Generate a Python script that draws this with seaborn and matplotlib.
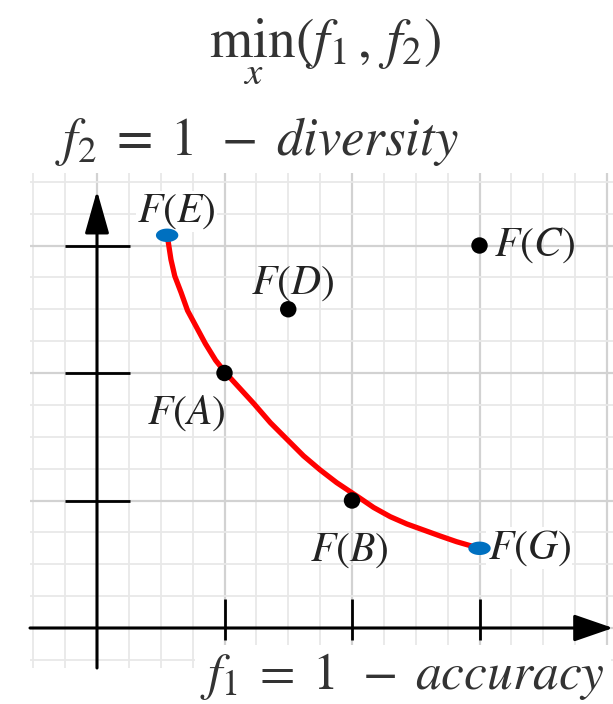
import numpy as np
import pandas as pd
import matplotlib
matplotlib.use("Agg")
import matplotlib.pyplot as plt
from matplotlib.path import Path
from matplotlib.ticker import MultipleLocator
import seaborn as sns

# ================================================================
# DATA
# ================================================================
point_names = ["A", "B", "C", "D"]
point_f1 = [1.0, 2.0, 3.0, 1.5]
point_f2 = [2.0, 1.0, 3.0, 2.5]

end_names = ["E", "G"]
end_f1 = [0.55, 3.0]
end_f2 = [3.08, 0.625]

# pareto front
front_f1 = [0.55, 0.56, 0.58, 0.61, 0.66, 0.71, 0.78, 0.85, 0.93, 1.01, 1.12, 1.23,
            1.36, 1.49, 1.62, 1.75, 1.88, 2.0, 2.06, 2.17, 2.30, 2.43, 2.56, 2.69, 2.82, 3.0]
front_f2 = [3.08, 3.02, 2.89, 2.76, 2.63, 2.49, 2.36, 2.23, 2.10, 2.0, 1.88, 1.76,
            1.61, 1.48, 1.35, 1.24, 1.14, 1.06, 1.02, 0.945, 0.873, 0.816, 0.769, 0.722, 0.677, 0.625]

axis_ticks = [1, 2, 3]

title_text = r"$\min_{x}(f_1,\, f_2)$"
ylabel_text = r"$f_2\;=\;1\;\,-\;diversity$"
xlabel_text = r"$f_1\;=\;1\;\,-\;accuracy$"

# ================================================================
# FIGURE
# ================================================================
W, H = 613, 704
sns.set_style("white")
plt.rcParams["mathtext.fontset"] = "stix"
plt.rcParams["font.family"] = ["STIXGeneral", "DejaVu Sans"]

fig = plt.figure(figsize=(W / 100, H / 100), dpi=100)


def fx(px):
    return px / W


def fy(py):
    return 1 - py / H


# axes covers the grid paper area
ax = fig.add_axes([fx(30), fy(668), fx(613) - fx(30), fy(173) - fy(668)])
x0, unit = 97, 127.5
ax.set_xlim((30 - x0) / unit, (613 - x0) / unit)
ax.set_ylim((628 - 668) / unit, (628 - 173) / unit)

# grid paper
ax.xaxis.set_major_locator(MultipleLocator(1))
ax.yaxis.set_major_locator(MultipleLocator(1))
ax.xaxis.set_minor_locator(MultipleLocator(0.25))
ax.yaxis.set_minor_locator(MultipleLocator(0.25))
ax.grid(which="major", color="#d2d2d2", lw=1.6)
ax.grid(which="minor", color="#e8e8e8", lw=1.3)
ax.tick_params(which="both", length=0, labelbottom=False, labelleft=False)
for s in ax.spines.values():
    s.set_visible(False)
ax.set_axisbelow(True)

xmin, xmax = ax.get_xlim()
ymin, ymax = ax.get_ylim()

# axes with arrows
ax.annotate("", xy=(xmax, 0), xytext=(xmin, 0),
            arrowprops=dict(arrowstyle="-|>,head_length=1.1,head_width=0.38",
                            lw=2.2, color="black", mutation_scale=22, shrinkA=0, shrinkB=0))
ax.annotate("", xy=(0, 3.43), xytext=(0, ymin),
            arrowprops=dict(arrowstyle="-|>,head_length=1.2,head_width=0.34",
                            lw=2.2, color="black", mutation_scale=22, shrinkA=0, shrinkB=0))
for t in axis_ticks:
    ax.plot([t, t], [-0.094, 0.23], color="black", lw=2.0, solid_capstyle="butt")
    ax.plot([-0.25, 0.26], [t, t], color="black", lw=2.0, solid_capstyle="butt")

# red pareto front
front = pd.DataFrame({"f1": front_f1, "f2": front_f2})
sns.lineplot(data=front, x="f1", y="f2", sort=False, color="red", lw=3.8, ax=ax, zorder=3)

# black solutions
pts = pd.DataFrame({"name": point_names, "f1": point_f1, "f2": point_f2})
sns.scatterplot(data=pts, x="f1", y="f2", color="black", s=140, edgecolor="none", ax=ax, zorder=4)

# blue end points (flattened ellipse marker)
t = np.linspace(0, 2 * np.pi, 60)
ellipse = Path(np.column_stack([np.cos(t), 0.6 * np.sin(t)]))
ends = pd.DataFrame({"name": end_names, "f1": end_f1, "f2": end_f2})
sns.scatterplot(data=ends, x="f1", y="f2", color="#0070c0", marker=ellipse, s=260,
                edgecolor="none", ax=ax, zorder=5)
ax.set_xlabel("")
ax.set_ylabel("")

# point labels (offsets in pixels); boxed ones sit under the marks
label_pos = {
    "A": (-38, -40, "center", False),
    "B": (-3, -50, "center", False),
    "C": (14, 0, "left", False),
    "D": (4, 26, "center", False),
    "E": (9, 24, "center", True),
    "G": (8, 0, "left", True),
}
all_pts = pd.concat([pts, ends])
for _, r in all_pts.iterrows():
    dx, dy, ha, boxed = label_pos[r["name"]]
    bbox = dict(facecolor="white", edgecolor="none", pad=1) if boxed else None
    ax.annotate(rf"$F({r['name']})$", (r["f1"], r["f2"]), xytext=(dx, dy),
                textcoords="offset pixels", ha=ha, va="center", fontsize=30,
                color="#222222", bbox=bbox, zorder=2.5 if boxed else 6)

# titles
fig.text(fx(325), fy(52), title_text, ha="center", va="center", fontsize=40, color="#333333")
fig.text(fx(55), fy(142), ylabel_text, ha="left", va="center", fontsize=38, color="#333333")
fig.text(fx(605), fy(676), xlabel_text, ha="right", va="center", fontsize=37, color="#333333",
         bbox=dict(facecolor="white", edgecolor="none", pad=4))

fig.savefig("out.png", dpi=100)
